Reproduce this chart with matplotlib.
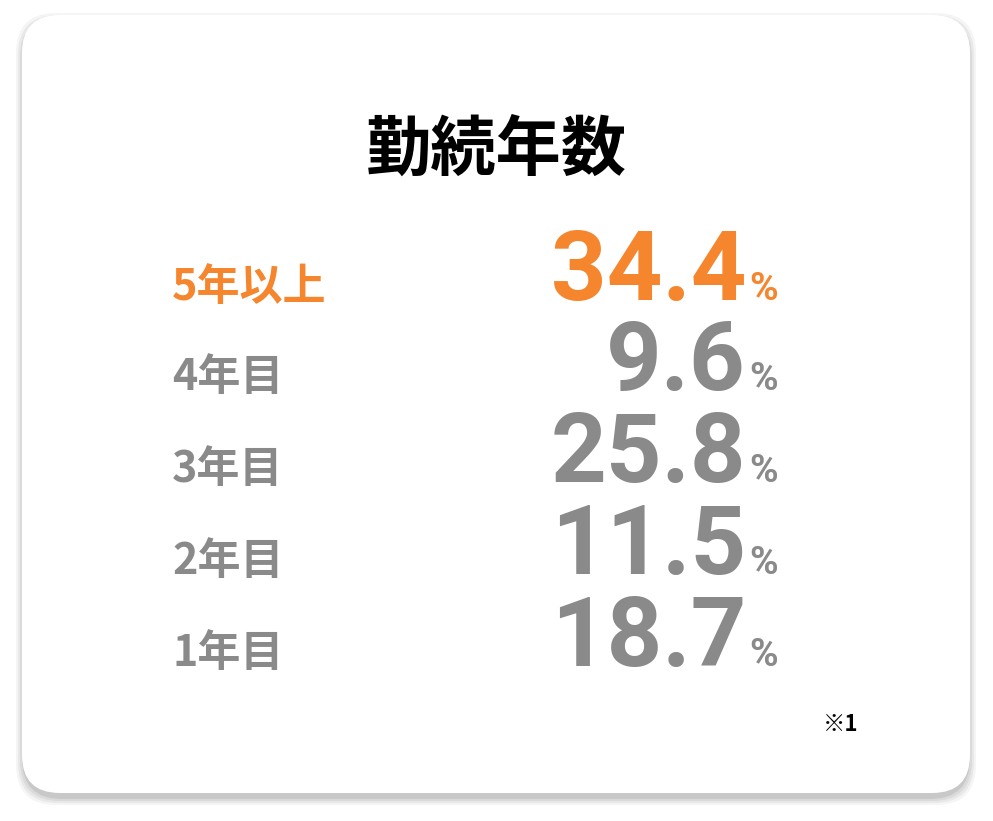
import matplotlib.pyplot as plt
from matplotlib.patches import FancyBboxPatch

plt.rcParams['font.family'] = ['Noto Sans CJK JP', 'DejaVu Sans']

title = "勤続年数"
labels = ["5年以上", "4年目", "3年目", "2年目", "1年目"]
values = [34.4, 9.6, 25.8, 11.5, 18.7]
note = "※1"

orange = "#f5862e"
gray = "#8a8a8a"

fig = plt.figure(figsize=(9.93, 8.21), dpi=100)
ax = fig.add_axes([0, 0, 1, 1])
ax.set_xlim(0, 993)
ax.set_ylim(821, 0)
ax.axis("off")

# shadow layers then card
for i, a in enumerate([0.04, 0.05, 0.06, 0.08]):
    d = 8 - i * 2
    ax.add_patch(FancyBboxPatch((22 - d + 2, 15 - d + 6), 948 + 2 * d - 4, 780 + 2 * d - 4,
                                boxstyle="round,pad=0,rounding_size=40",
                                fc="black", ec="none", alpha=a))
ax.add_patch(FancyBboxPatch((22, 15), 948, 778, boxstyle="round,pad=0,rounding_size=38",
                            fc="white", ec="none"))

ax.text(496, 150, title, ha="center", va="center", fontsize=47, fontweight="bold", color="black")

baselines = [300, 390, 482, 574, 666]
for i, (lab, v, y) in enumerate(zip(labels, values, baselines)):
    c = orange if i == 0 else gray
    ax.text(172, y, lab, ha="left", va="baseline", fontsize=31, fontweight="bold", color=c)
    ax.text(746, y, f"{v:.1f}", ha="right", va="baseline", fontsize=70, fontweight="bold",
            color=c, family="Roboto")
    ax.text(749, y, "%", ha="left", va="baseline", fontsize=28, fontweight="bold",
            color=c, family="Roboto")

ax.text(858, 731, note, ha="right", va="baseline", fontsize=16, fontweight="bold", color="black")

fig.savefig("out.png", dpi=100)
